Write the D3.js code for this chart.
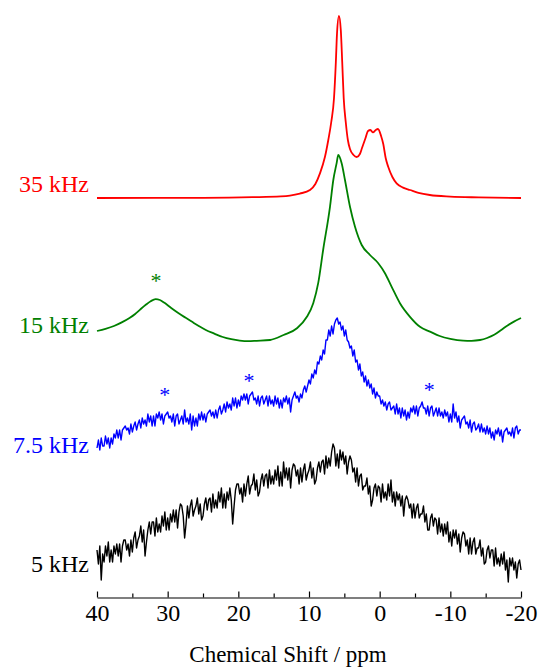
<!DOCTYPE html>
<html>
<head>
<meta charset="utf-8">
<script src="https://cdn.jsdelivr.net/npm/d3@7"></script>
<style>
  html, body { margin: 0; padding: 0; background: #fff; }
  svg { display: block; }
</style>
</head>
<body>
<svg id="chart" width="540" height="667"></svg>
<script>
// ---- data -------------------------------------------------------------
const majorTicks = [40, 30, 20, 10, 0, -10, -20];
const minorTicks = [35, 25, 15, 5, -5, -15];
const spinRates = ["35 kHz", "15 kHz", "7.5 kHz", "5 kHz"];
const traceColors = ["#ff0000", "#008000", "#0000ff", "#000000"];
// vertical stacking offsets (intensity units)
const stackOffsets = [200, 125, 70, 10];

// 35 kHz: [ppm, intensity]
const spec35 = [
  [40,0],[25,0.1],[18,0.4],[14,0.8],[12.7,1.2],[11.3,2.2],[9.86,4],[9.1,7],[8.45,12.3],
  [7.74,20.6],[7.27,29],[6.85,38],[6.46,50],[6.2,68],[6.04,82],[5.76,91],[5.5,84],
  [5.3,68],[5.09,50],[4.8,38],[4.5,29],[4.2,24.5],[3.7,21.5],[3.25,20.5],[2.8,22],
  [2.5,25],[2.0,30],[1.65,33.5],[1.3,34],[0.95,32.8],[0.55,34],[0.24,34.5],[-0.2,31],
  [-0.51,27],[-0.85,20],[-1.22,15.5],[-1.8,10.5],[-2.4,7.3],[-3.3,5.2],[-4.3,4],
  [-5.5,2.6],[-7.1,1.5],[-10,0.7],[-14,0.3],[-20,0]
];

// 15 kHz: [ppm, intensity]
const spec15 = [
  [40,8.5],[38.8,9.6],[37.6,11.0],[36.5,12.8],[35.4,15.0],[34.6,17.0],[33.9,19.2],
  [33.1,21.6],[32.4,23.4],[31.7,24.4],[31.1,24],[30.5,22.7],[29.5,20],[28.5,17.5],
  [27.5,15.2],[26.6,13.2],[25.6,11],[24.6,9],[23.4,7.2],[22.2,5.5],[21,4.4],[19.8,3.7],
  [18.6,3.4],[17.4,3.6],[15.5,4],[13.6,6.5],[11.7,9.9],[10.3,15.6],[9.4,22.4],[8.7,32.4],
  [8.0,49],[7.03,70.6],[6.56,84],[6.09,92.4],[5.86,96.5],[5.38,92.4],[4.91,84],[4.2,70.6],
  [3.49,60.6],[2.54,51.5],[1.37,46.5],[0.2,42.4],[-0.75,37.4],[-1.7,30.6],[-2.87,22.4],
  [-4.29,15.6],[-5.7,10.6],[-7.12,8.2],[-8.5,6],[-10,4.6],[-11.8,3.7],[-13,3.6],
  [-14.2,4],[-15.2,5],[-16.2,6.6],[-17.2,9],[-18.1,11.3],[-19,13.2],[-20,15]
];

// 7.5 kHz and 5 kHz: intensities sampled every 0.2 ppm from 40 to -20 ppm
const sampleStart = 40;
const sampleStep = 0.2;

const spec7_5 = [
  5,9,4,10,6,    6,11,7,10,5,   10,7,12,10,14,  10,14,9,14,15,  16,14,15,12,17,
  13,16,18,14,17, 19,15,20,17,19, 16,22,18,21,16, 21,16,22,20,23, 19,22,17,21,22,
  23,20,21,18,22, 16,21,22,17,19, 21,17,24,18,20, 17,22,14,21,16, 20,16,22,19,23,
  19,22,18,22,23, 24,21,23,20,24, 20,24,26,22,24, 27,23,28,25,27, 24,30,26,30,25,
  29,26,31,29,32, 29,32,27,31,32, 33,29,30,27,31, 26,30,31,27,29, 31,26,31,27,29,
  26,31,27,30,25, 29,25,30,28,31, 27,30,23,29,31, 33,30,31,28,32, 30,34,36,33,36,
  39,37,42,40,44, 42,48,47,51,49, 54,52,59,59,64, 61,66,62,67,69, 70,67,68,64,66,
  61,64,59,58,55, 56,51,54,48,49, 44,47,41,43,38, 41,36,39,35,37, 32,35,30,33,31,
  31,27,29,26,28, 24,27,28,24,25, 26,22,27,22,25, 20,25,21,24,19, 23,20,25,23,26,
  22,26,21,25,26, 28,25,25,22,26, 21,25,26,21,23, 25,21,25,21,23, 20,24,21,23,18,
  22,18,27,20,23, 18,21,15,19,20, 21,17,18,15,19, 13,17,18,14,15, 17,13,17,13,15,
  12,16,12,15,10, 13,9,14,12,15,  11,14,8,13,14,  15,12,13,11,15, 10,15,16,12,14,
  14
];

const spec5 = [
  14,7,16,-1,12,  8,16,11,18,8,   14,8,16,12,17,  11,17,8,16,19,  19,14,17,11,19,
  13,20,23,15,19, 21,26,18,24,11, 18,24,28,22,28, 28,21,30,23,27, 23,31,26,33,24,
  30,24,32,28,34, 28,34,25,33,37, 36,31,20,27,36, 30,36,39,31,34, 36,40,32,37,29,
  31,37,40,34,39, 40,33,42,35,39, 35,43,38,45,35, 42,35,43,39,45, 39,27,36,44,47,
  47,42,45,38,47, 41,47,51,42,46, 47,52,44,49,41, 43,49,52,46,51, 52,45,54,47,51,
  47,54,49,56,46, 53,46,58,50,55, 49,55,45,54,57, 56,51,54,47,55, 48,54,57,49,52,
  54,58,50,55,47, 49,55,58,53,58, 59,52,61,55,60, 56,63,67,65,56, 62,55,64,59,63,
  57,61,52,58,61, 59,53,55,48,55, 46,51,52,44,46, 46,50,42,46,36, 39,45,47,41,46,
  45,38,47,40,43, 39,47,41,49,38, 43,36,43,39,42, 36,41,31,39,41, 39,35,37,30,37,
  30,35,37,30,32, 32,36,28,32,24, 24,30,32,26,30, 29,22,30,23,27, 21,27,22,28,18,
  23,16,24,20,24, 17,22,13,20,23, 22,16,19,12,20, 12,18,20,12,15, 15,19,11,15,7,
  8,14,16,10,14,  14,6,15,7,10,   6,12,7,13,4,    9,-2,10,6,10,   4,8,0,7,9,
  4
];

// spinning sideband markers: [trace index, ppm, intensity]
const sidebands = [[1, 31.65, 35], [2, 30.4, 33], [2, 18.5, 40], [2, -7.0, 35.5]];

// ---- layout -----------------------------------------------------------
const svg = d3.select("#chart");
const FONT = "'Liberation Serif', 'Times New Roman', Times, serif";

const x = d3.scaleLinear().domain([40, -20]).range([97, 521]);
const y = d3.scaleLinear().domain([0, 300]).range([598, -2]);

const toPairs = arr => arr.map((v, i) => [sampleStart - i * sampleStep, v]);
const traces = [spec35, spec15, toPairs(spec7_5), toPairs(spec5)];
const curves = [d3.curveMonotoneX, d3.curveMonotoneX, d3.curveLinear, d3.curveLinear];
const widths = [1.8, 1.8, 1.4, 1.4];

traces.forEach((pts, k) => {
  const line = d3.line()
    .x(d => x(d[0]))
    .y(d => y(stackOffsets[k] + d[1]))
    .curve(curves[k]);
  svg.append("path")
    .datum(pts)
    .attr("d", line)
    .attr("fill", "none")
    .attr("stroke", traceColors[k])
    .attr("stroke-width", widths[k])
    .attr("stroke-linejoin", "round");
});

// trace labels, right-aligned to the left of the spectra
const labelLift = [3, 7.5, 2.5, 3];
spinRates.forEach((t, k) => {
  svg.append("text")
    .attr("x", 89)
    .attr("y", y(stackOffsets[k] + labelLift[k]))
    .attr("text-anchor", "end")
    .attr("font-family", FONT)
    .attr("font-size", 24)
    .attr("fill", traceColors[k])
    .text(t);
});

// sideband asterisks
svg.selectAll("text.sb")
  .data(sidebands)
  .join("text")
  .attr("class", "sb")
  .attr("x", d => x(d[1]))
  .attr("y", d => y(stackOffsets[d[0]] + d[2]) + 10)
  .attr("text-anchor", "middle")
  .attr("font-family", FONT)
  .attr("font-size", 22)
  .attr("fill", d => traceColors[d[0]])
  .text("*");

// ppm axis with ticks pointing up
const axisY = 597.5;
const gAxis = svg.append("g")
  .attr("transform", `translate(0,${axisY})`)
  .call(d3.axisBottom(x)
    .tickValues(majorTicks)
    .tickSize(-6)
    .tickSizeOuter(0)
    .tickPadding(6)
    .tickFormat(d => String(d)));
gAxis.select(".domain").attr("stroke", "#000").attr("stroke-width", 1.2);
gAxis.selectAll(".tick line").attr("stroke", "#000").attr("stroke-width", 1.2);
gAxis.selectAll(".tick text")
  .attr("font-family", FONT)
  .attr("font-size", 24)
  .attr("fill", "#000");

const gMinor = svg.append("g")
  .attr("transform", `translate(0,${axisY})`)
  .call(d3.axisBottom(x)
    .tickValues(minorTicks)
    .tickSize(-4)
    .tickSizeOuter(0)
    .tickFormat(""));
gMinor.select(".domain").remove();
gMinor.selectAll(".tick line").attr("stroke", "#000").attr("stroke-width", 1.2);

svg.append("text")
  .attr("x", 288)
  .attr("y", 662)
  .attr("text-anchor", "middle")
  .attr("font-family", FONT)
  .attr("font-size", 23)
  .attr("fill", "#000")
  .text("Chemical Shift / ppm");
</script>
</body>
</html>
